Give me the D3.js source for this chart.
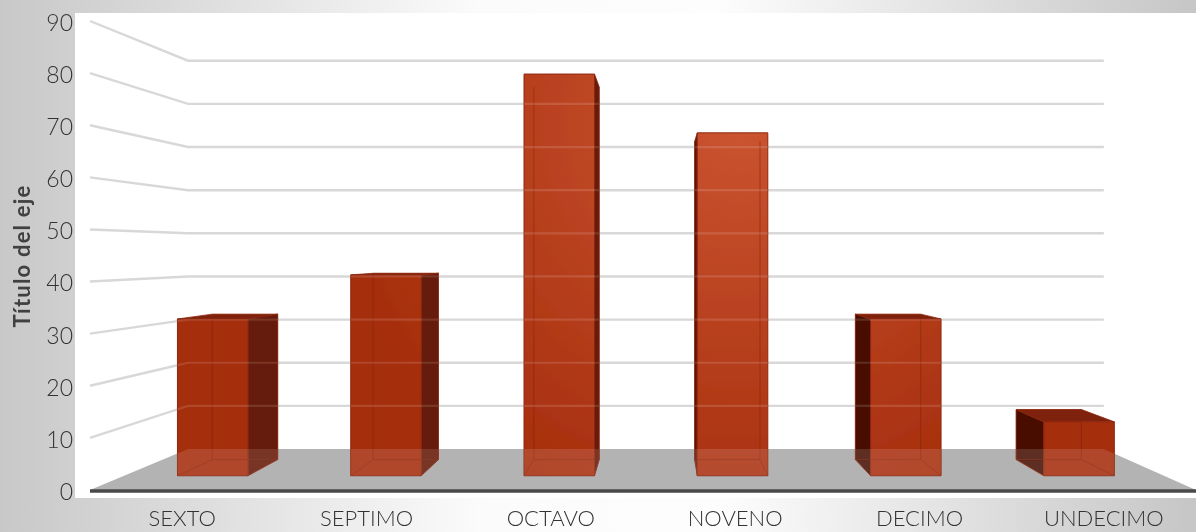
<!DOCTYPE html>
<html><head><meta charset="utf-8">
<style>html,body{margin:0;padding:0;overflow:hidden;background:#fff}svg{display:block}</style>
<script src="https://cdn.jsdelivr.net/npm/d3@7"></script></head>
<body><svg id="c" width="1196" height="532"></svg>
<script>
const categories = ["SEXTO","SEPTIMO","OCTAVO","NOVENO","DECIMO","UNDECIMO"];
const values = [32, 41, 82, 70, 32, 11];
const yTicks = [0,10,20,30,40,50,60,70,80,90];
const axisTitle = "Título del eje";

const W=1196,H=532;
const svg=d3.select("#c");
const defs=svg.append("defs");
const y=d3.scaleLinear().domain([0,90]).range([490,21]);
const x=d3.scaleBand().domain(categories).range([90,1196]);
const vp={x:660,y:252}, sBack=0.828, sBarFront=0.94, sBarBack=0.872, barW=75, barShift=2;
const proj=(X,Y,s)=>[vp.x+(X-vp.x)*s, vp.y+(Y-vp.y)*s];
const pts=a=>a.map(p=>p.join(",")).join(" ");

const bg=defs.append("linearGradient").attr("id","bg");
[[0,"#c8c8c8"],[.4,"#fbfbfb"],[.6,"#fdfdfd"],[1,"#c6c6c6"]].forEach(s=>bg.append("stop").attr("offset",s[0]).attr("stop-color",s[1]));
const faceG=defs.append("radialGradient").attr("id","face").attr("gradientUnits","userSpaceOnUse")
  .attr("cx",740).attr("cy",120).attr("r",420);
[[0,"#cb5431"],[1,"#a52d0c"]].forEach(s=>faceG.append("stop").attr("offset",s[0]).attr("stop-color",s[1]));
defs.append("filter").attr("id","soft").attr("x","-5%").attr("y","-5%").attr("width","110%").attr("height","110%")
  .append("feGaussianBlur").attr("stdDeviation",0.65);
defs.append("filter").attr("id","softText").attr("x","-10%").attr("y","-10%").attr("width","120%").attr("height","120%")
  .append("feGaussianBlur").attr("stdDeviation",0.3);

const floor=[[90,y(0)],proj(90,y(0),sBack),proj(1196,y(0),sBack),[1196,y(0)]];
defs.append("clipPath").attr("id","floorClip").append("polygon").attr("points",pts(floor));

svg.append("rect").attr("width",W).attr("height",H).attr("fill","url(#bg)");
svg.append("rect").attr("x",75).attr("y",13).attr("width",W-75).attr("height",485).attr("fill","#fff");

const g=svg.append("g").attr("filter","url(#soft)");
const gridTicks=yTicks.filter(v=>v>0);
const gridPath=v=>{const b1=proj(90,y(v),sBack),b2=proj(1196,y(v),sBack);
  return d3.line()([[90,y(v)],b1,b2]);};

g.selectAll(".grid").data(gridTicks).join("path").attr("class","grid")
  .attr("d",gridPath).attr("fill","none").attr("stroke","#d8d8d8").attr("stroke-width",2.4);
g.append("polygon").attr("points",pts(floor)).attr("fill","#b3b3b3");

categories.forEach((c,i)=>{
  const cx=x(c)+x.bandwidth()/2+barShift;
  const L=cx-barW/2,R=cx+barW/2,T=y(values[i]),B=y(0);
  const f=[proj(L,T,sBarFront),proj(R,T,sBarFront),proj(R,B,sBarFront),proj(L,B,sBarFront)];
  const k=[proj(L,T,sBarBack),proj(R,T,sBarBack),proj(R,B,sBarBack),proj(L,B,sBarBack)];
  const right=[f[1],k[1],k[2],f[2]], left=[k[0],f[0],f[3],k[3]], top=[k[0],k[1],f[1],f[0]];
  const showRight=k[1][0]>f[1][0], side=showRight?right:left;
  const bar=g.append("g");
  const edge="#8e2810";
  bar.append("polygon").attr("points",pts(k)).attr("fill","#a52d0c");
  bar.append("polygon").attr("points",pts(side)).attr("fill",showRight?"#661a08":(cx>800?"#481002":"#5c1706"))
     .attr("stroke",edge).attr("stroke-width",.8);
  if(T>vp.y) bar.append("polygon").attr("points",pts(top)).attr("fill","#7e210a").attr("stroke",edge).attr("stroke-width",.8);
  bar.append("polygon").attr("points",pts(f)).attr("fill","url(#face)").attr("stroke",edge).attr("stroke-width",1);
  const inner=showRight?[[k[0],k[3]],[k[3],f[3]],[k[3],k[2]]]:[[k[1],k[2]],[k[2],f[2]],[k[3],k[2]]];
  inner.forEach(e=>bar.append("line").attr("x1",e[0][0]).attr("y1",e[0][1]).attr("x2",e[1][0]).attr("y2",e[1][1])
     .attr("stroke","#7e220a").attr("stroke-opacity",.5).attr("stroke-width",1));
  const id="bar"+i;
  defs.append("clipPath").attr("id",id).selectAll("polygon").data([f,side]).join("polygon").attr("points",pts);
  bar.append("g").attr("clip-path","url(#floorClip)").selectAll("polygon").data([f,side]).join("polygon")
     .attr("points",pts).attr("fill","#fff").attr("fill-opacity",.12);
  bar.append("g").attr("clip-path",`url(#${id})`).selectAll("path").data(gridTicks).join("path")
     .attr("d",gridPath).attr("fill","none").attr("stroke","#fff").attr("stroke-opacity",.13).attr("stroke-width",2.2);
});

g.append("line").attr("x1",90).attr("x2",1196).attr("y1",y(0)+1).attr("y2",y(0)+1).attr("stroke","#4a4a4a").attr("stroke-width",3.6);

const font="Lato, 'Open Sans', sans-serif";
const yAxis=svg.append("g").attr("transform","translate(73,2)").attr("filter","url(#softText)")
  .call(d3.axisLeft(y).tickValues(yTicks).tickSize(0).tickPadding(0));
yAxis.select(".domain").remove();
yAxis.selectAll("text").attr("font-family",font).attr("font-size",23).attr("fill","#333").attr("font-weight",300);
const xAxis=svg.append("g").attr("transform","translate(0,510)").attr("filter","url(#softText)")
  .call(d3.axisBottom(x).tickSize(0).tickPadding(0));
xAxis.select(".domain").remove();
xAxis.selectAll("text").attr("font-family",font).attr("font-size",22).attr("fill","#333").attr("font-weight",300);
svg.append("text").attr("transform","translate(30,256) rotate(-90)").attr("text-anchor","middle").attr("filter","url(#softText)")
  .attr("font-family",font).attr("font-weight",700).attr("font-size",22).attr("letter-spacing",1.2).attr("fill","#404040").text(axisTitle);
</script></body></html>
